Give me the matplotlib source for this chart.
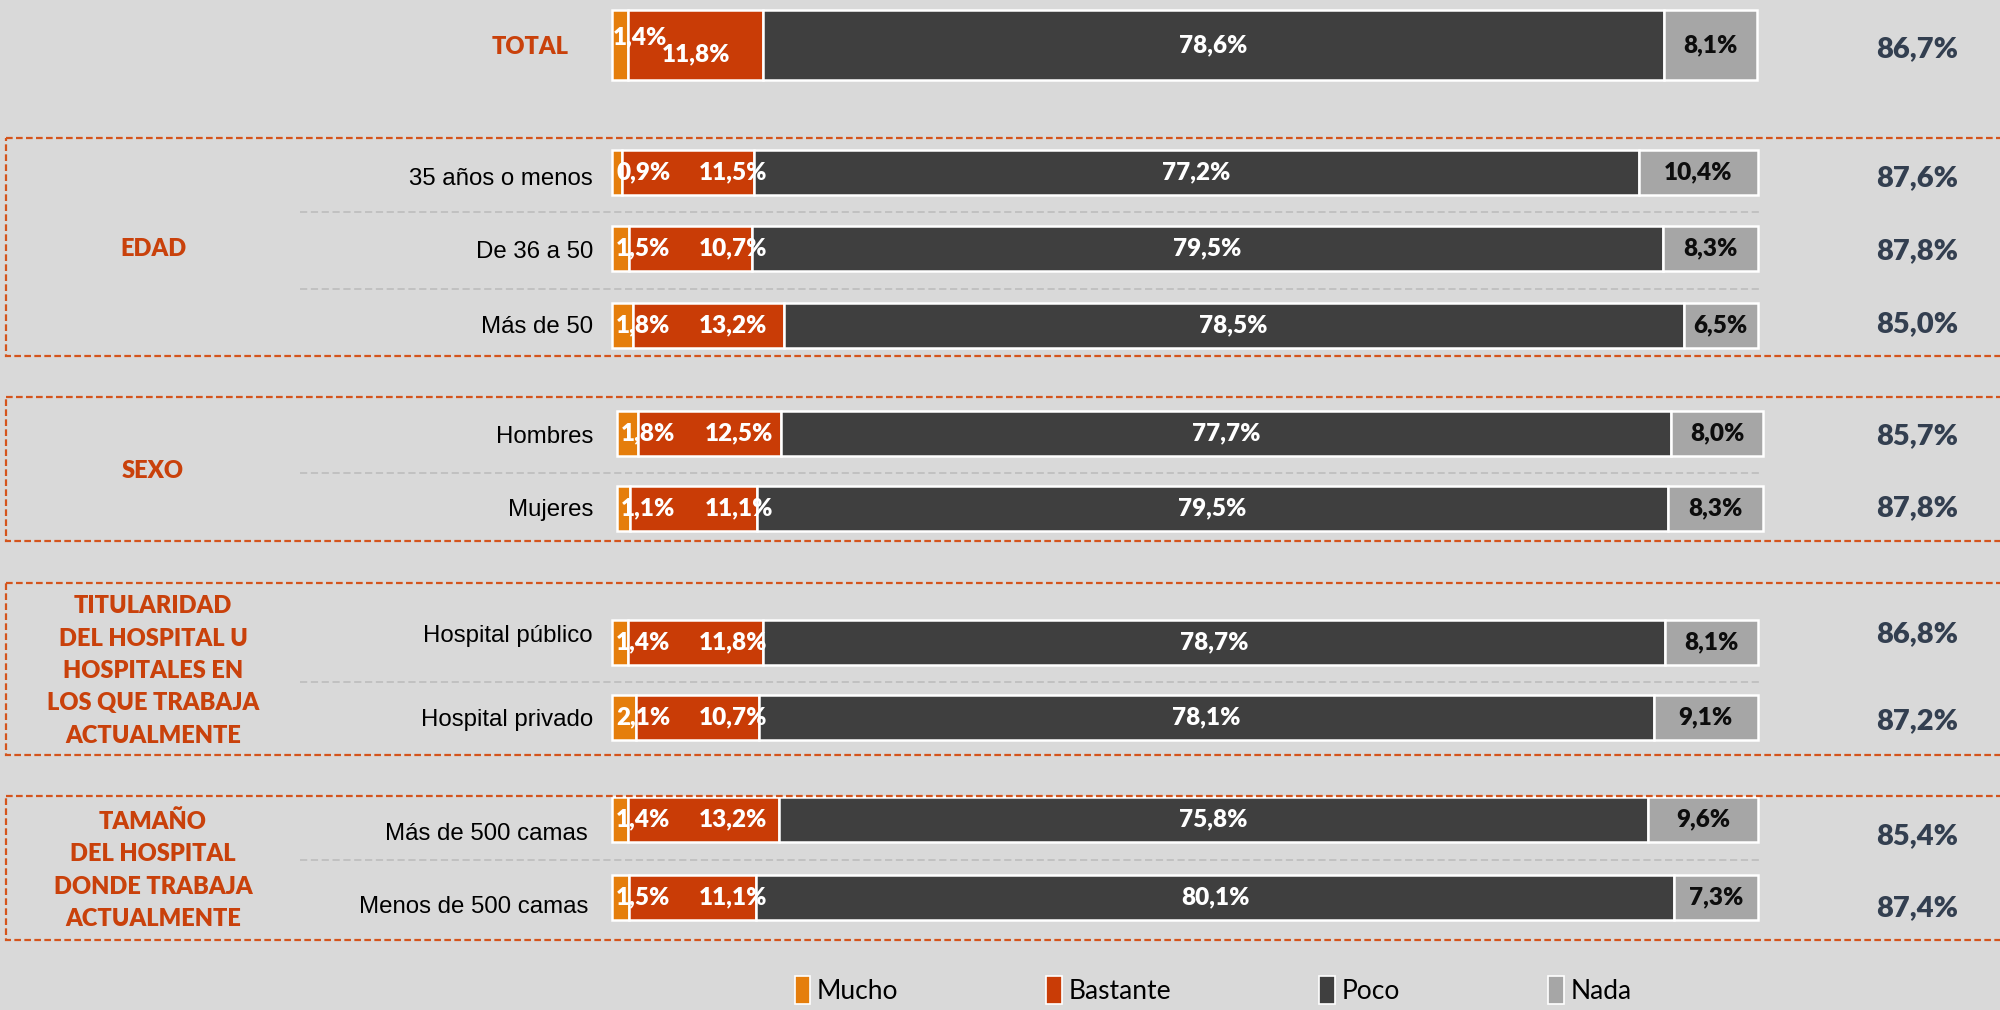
import matplotlib
matplotlib.use("Agg")
import matplotlib.pyplot as plt
from matplotlib.patches import Rectangle, Patch

# ---------------- data ----------------
rows = ["TOTAL", "35 años o menos", "De 36 a 50", "Más de 50", "Hombres", "Mujeres",
        "Hospital público", "Hospital privado", "Más de 500 camas", "Menos de 500 camas"]
mucho    = [1.4, 0.9, 1.5, 1.8, 1.8, 1.1, 1.4, 2.1, 1.4, 1.5]
bastante = [11.8, 11.5, 10.7, 13.2, 12.5, 11.1, 11.8, 10.7, 13.2, 11.1]
poco     = [78.6, 77.2, 79.5, 78.5, 77.7, 79.5, 78.7, 78.1, 75.8, 80.1]
nada     = [8.1, 10.4, 8.3, 6.5, 8.0, 8.3, 8.1, 9.1, 9.6, 7.3]
totales  = [86.7, 87.6, 87.8, 85.0, 85.7, 87.8, 86.8, 87.2, 85.4, 87.4]
series_names = ["Mucho", "Bastante", "Poco", "Nada"]
groups = ["EDAD", "SEXO",
          "TITULARIDAD\nDEL HOSPITAL U\nHOSPITALES EN\nLOS QUE TRABAJA\nACTUALMENTE",
          "TAMAÑO\nDEL HOSPITAL\nDONDE TRABAJA\nACTUALMENTE"]

# ---------------- style / layout ----------------
colors = ["#E57E0C", "#C93C06", "#3F3F3F", "#A6A6A6"]
txtcol = ["white", "white", "white", "#0D0D0D"]
bg = "#D9D9D9"
orange_txt = "#C9410B"
box_col = "#D4541C"
W, H = 2000, 1010
x0px, pxu = 612, 11.46          # pixel of 0% and pixels per percent
row_y = [45, 172, 248, 325, 433, 508, 642, 717, 819, 897]
row_h = [70, 45, 45, 45, 45, 45, 45, 45, 45, 45]
bar_shift = [0, 0, 0, 0, 0.45, 0.45, 0, 0, 0, 0]
label_dy = [2, 7, 4, 2, 4, 2, -6, 3, 15, 10]
total_dy = [4, 6, 3, -1, 3, 0, -8, 4, 17, 11]
group_rows = [[1, 2, 3], [4, 5], [6, 7], [8, 9]]
group_box = [(138, 356), (397, 541), (583, 755), (796, 940)]
label_right = [None, 593, 593, 593, 593, 593, 593, 593, 588, 588]

def fx(px):
    return px / W

def fy(py):
    return 1 - py / H

fig = plt.figure(figsize=(20, 10.1), dpi=100, facecolor=bg)
ax = fig.add_axes([0, 0, 1, 1])
ax.set_facecolor(bg)
ax.set_xlim(-x0px / pxu, (W - x0px) / pxu)
ax.set_ylim(H, 0)
ax.axis("off")

bold = dict(family="Lato", fontweight=800)
BL = 17.5

def fmt(v):
    return f"{v:.1f}%".replace(".", ",")

vals = [mucho, bastante, poco, nada]
for i in range(len(rows)):
    left = bar_shift[i]
    for s in range(4):
        v = vals[s][i]
        ax.barh(row_y[i], v, left=left, height=row_h[i], color=colors[s],
                edgecolor="white", linewidth=1.8)
        if s == 0:
            if i == 0:
                ax.text(left + 0.05, row_y[i] - 8, fmt(v), color=txtcol[s],
                        ha="left", va="center", fontsize=BL, **bold)
            else:
                ax.text(left + 0.35, row_y[i], fmt(v), color=txtcol[s],
                        ha="left", va="center", fontsize=BL, **bold)
        elif s == 1:
            if i == 0:
                ax.text(left + v / 2, row_y[i] + 9, fmt(v),
                        color=txtcol[s], ha="center", va="center", fontsize=BL, **bold)
            else:
                ax.text(bar_shift[i] + 10.6, row_y[i], fmt(v),
                        color=txtcol[s], ha="center", va="center", fontsize=BL, **bold)
        else:
            ax.text(left + v / 2, row_y[i], fmt(v),
                    color=txtcol[s], ha="center", va="center", fontsize=BL, **bold)
        left += v
    # total on the right
    fig.text(fx(1917), fy(row_y[i] + total_dy[i]), fmt(totales[i]),
             color="#333F50", ha="center", va="center", fontsize=21, **bold)
    # row label
    if i == 0:
        fig.text(fx(530), fy(row_y[i] + label_dy[i]), rows[i], color=orange_txt,
                 ha="center", va="center", fontsize=17, **bold)
    else:
        fig.text(fx(label_right[i]), fy(row_y[i] + label_dy[i]), rows[i], color="black",
                 ha="right", va="center", fontsize=17.3, family="Liberation Sans")

# separators inside groups and group boxes
for g, idx in enumerate(group_rows):
    for a, b in zip(idx[:-1], idx[1:]):
        ym = (row_y[a] + row_y[b]) / 2 + 2
        ax.plot([(300 - x0px) / pxu, (1760 - x0px) / pxu], [ym, ym], color="#BFBFBF",
                lw=1.3, ls=(0, (4, 2)))
    top, bot = group_box[g]
    ax.add_patch(Rectangle(((6 - x0px) / pxu, top), (2100 - 6) / pxu, bot - top,
                           fill=False, edgecolor=box_col, lw=1.6, ls=(0, (3, 1.5))))
    fig.text(fx(153), fy((top + bot) / 2 + 2), groups[g], color=orange_txt,
             ha="center", va="center", fontsize=17, linespacing=1.57,
             multialignment="center", **bold)

handles = [Patch(facecolor=c, edgecolor="white", linewidth=1.2) for c in colors]
leg = fig.legend(handles, series_names, loc="center", bbox_to_anchor=(fx(1213), fy(990)),
                 ncol=4, frameon=False, handlelength=0.6, handleheight=1.3,
                 handletextpad=0.25, columnspacing=5.6,
                 prop=dict(family="Lato", size=19))

fig.savefig("out.png", dpi=100, facecolor=bg)
